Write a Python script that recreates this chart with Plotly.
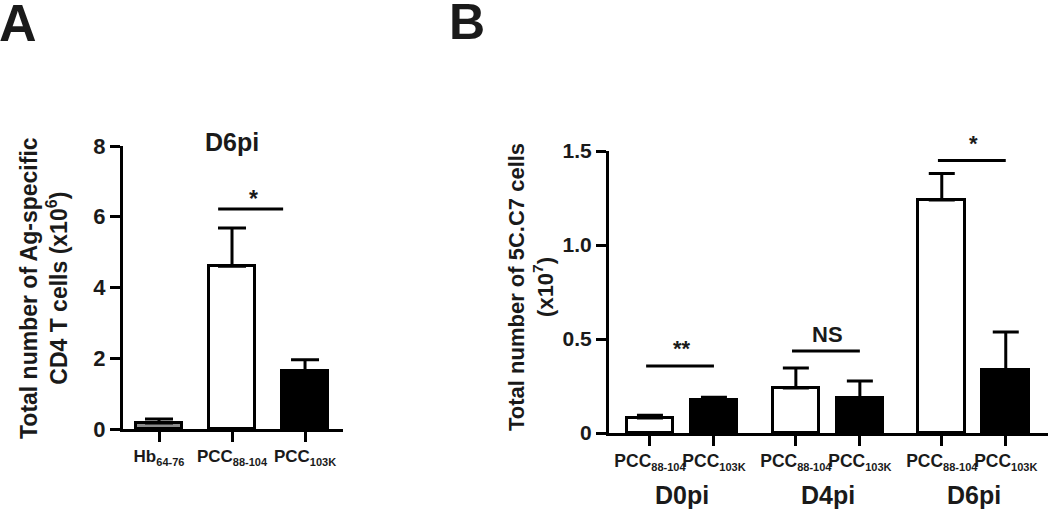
import plotly.graph_objects as go

# panel A: D6pi, Ag-specific CD4 T cells (x10^6)
a_names = [("Hb", "64-76"), ("PCC", "88-104"), ("PCC", "103K")]
a_means = [0.17, 4.6, 1.65]
a_err = [0.11, 1.08, 0.31]
a_colors = ["#8c8c8c", "white", "black"]
a_sig_text = "*"
a_sig_y = 6.22

# panel B: 5C.C7 cells (x10^7)
b_groups = ["D0pi", "D4pi", "D6pi"]
b_pep = [("PCC", "88-104"), ("PCC", "103K")]
b_pcc88 = [0.08, 0.24, 1.24]
b_pcc88_err = [0.015, 0.106, 0.14]
b_pcc103k = [0.175, 0.186, 0.335]
b_pcc103k_err = [0.015, 0.091, 0.202]
b_sig_text = ["**", "NS", "*"]
b_sig_y = [0.357, 0.436, 1.45]

FONT = "Liberation Sans, Arial, sans-serif"
INK = "#1a1a1a"
W, H = 1050, 513


def bold(size):
    return dict(size=size, family=FONT, weight="bold", color=INK)


def sublabel(name):
    base, sub = name
    return f"{base}<sub><span style='font-size:11px'>{sub}</span></sub>"


fig = go.Figure()

# ---- panel A
a_x = list(range(len(a_means)))
fig.add_trace(go.Bar(
    x=a_x, y=a_means, width=0.64,
    marker=dict(color=a_colors, line=dict(color="black", width=3)),
    error_y=dict(type="data", symmetric=False, array=a_err, arrayminus=[0] * 3,
                 color="black", thickness=3, width=14),
    xaxis="x", yaxis="y", showlegend=False
))
fig.add_trace(go.Scatter(
    x=[a_x[1] - 0.19, a_x[2] - 0.3], y=[a_sig_y, a_sig_y], mode="lines",
    line=dict(color="black", width=3), cliponaxis=False,
    xaxis="x", yaxis="y", showlegend=False
))

# ---- panel B
gap = 2.28
x88 = [i * gap for i in range(3)]
x103 = [i * gap + 1 for i in range(3)]
fig.add_trace(go.Bar(
    x=x88, y=b_pcc88, width=0.73,
    marker=dict(color="white", line=dict(color="black", width=3)),
    error_y=dict(type="data", symmetric=False, array=b_pcc88_err, arrayminus=[0] * 3,
                 color="black", thickness=3, width=13),
    xaxis="x2", yaxis="y2", showlegend=False
))
fig.add_trace(go.Bar(
    x=x103, y=b_pcc103k, width=0.73,
    marker=dict(color="black", line=dict(color="black", width=3)),
    error_y=dict(type="data", symmetric=False, array=b_pcc103k_err, arrayminus=[0] * 3,
                 color="black", thickness=3, width=13),
    xaxis="x2", yaxis="y2", showlegend=False
))
for i in range(3):
    fig.add_trace(go.Scatter(
        x=[x88[i] - 0.06, x103[i]], y=[b_sig_y[i], b_sig_y[i]], mode="lines",
        line=dict(color="black", width=3), cliponaxis=False,
        xaxis="x2", yaxis="y2", showlegend=False
    ))

ax = dict(showgrid=False, zeroline=False, showline=True, linecolor="black", linewidth=3,
          ticks="outside", ticklen=10, tickwidth=3, tickcolor="black", automargin=False)

annotations = [
    dict(text="A", x=0, y=1.0, xref="paper", yref="paper", xanchor="left", yanchor="top",
         xshift=-3, yshift=8, showarrow=False, font=bold(52)),
    dict(text="B", x=447 / W, y=1.0, xref="paper", yref="paper", xanchor="left", yanchor="top",
         yshift=8, showarrow=False, font=bold(50)),
    dict(text="D6pi", x=1, y=(H - 142) / H, xref="x", yref="paper", yanchor="middle",
         showarrow=False, font=bold(25)),
    dict(text="Total number of Ag-specific<br>CD4 T cells (x10<sup>6</sup>)",
         x=44 / W, y=(H - 288) / H, xref="paper", yref="paper", textangle=-90,
         xanchor="center", yanchor="middle", showarrow=False, font=bold(23)),
    dict(text="Total number of 5C.C7 cells<br>(x10<sup>7</sup>)",
         x=531 / W, y=(H - 287) / H, xref="paper", yref="paper", textangle=-90,
         xanchor="center", yanchor="middle", showarrow=False, font=bold(22)),
    dict(text=a_sig_text, x=1.3, y=a_sig_y, xref="x", yref="y", yshift=10,
         showarrow=False, font=bold(23)),
]
for i in range(3):
    annotations.append(dict(
        text=b_sig_text[i], x=(x88[i] + x103[i]) / 2, y=b_sig_y[i], xref="x2", yref="y2",
        yshift=17, showarrow=False, font=bold(22)))
    annotations.append(dict(
        text=b_groups[i], x=(x88[i] + x103[i]) / 2, y=(H - 495) / H, xref="x2", yref="paper",
        yanchor="middle", showarrow=False, font=bold(25)))

fig.update_layout(
    template="none",
    width=W, height=H, margin=dict(l=0, r=0, t=0, b=0),
    paper_bgcolor="white", plot_bgcolor="white",
    font=dict(family=FONT, color=INK),
    bargap=0,
    xaxis=dict(ax, domain=[123 / W, 343 / W], range=[-0.493, 2.52],
               tickvals=a_x, ticktext=[sublabel(n) for n in a_names], tickfont=bold(17)),
    yaxis=dict(ax, domain=[(H - 429) / H, (H - 146) / H], range=[0, 8],
               tickvals=[0, 2, 4, 6, 8], tickfont=bold(22)),
    xaxis2=dict(ax, domain=[609 / W, 1048 / W], range=[-0.64, 6.22], anchor="y2",
                tickvals=x88 + x103,
                ticktext=[sublabel(b_pep[0])] * 3 + [sublabel(b_pep[1])] * 3,
                tickfont=bold(17.5)),
    yaxis2=dict(ax, domain=[(H - 433) / H, (H - 151) / H], range=[0, 1.5], anchor="x2",
                tickvals=[0, 0.5, 1.0, 1.5], ticktext=["0", "0.5", "1.0", "1.5"],
                tickfont=bold(21)),
    annotations=annotations,
)

fig.write_html("out.html", config={"displayModeBar": False},
               post_script="document.body.style.margin='0';")
